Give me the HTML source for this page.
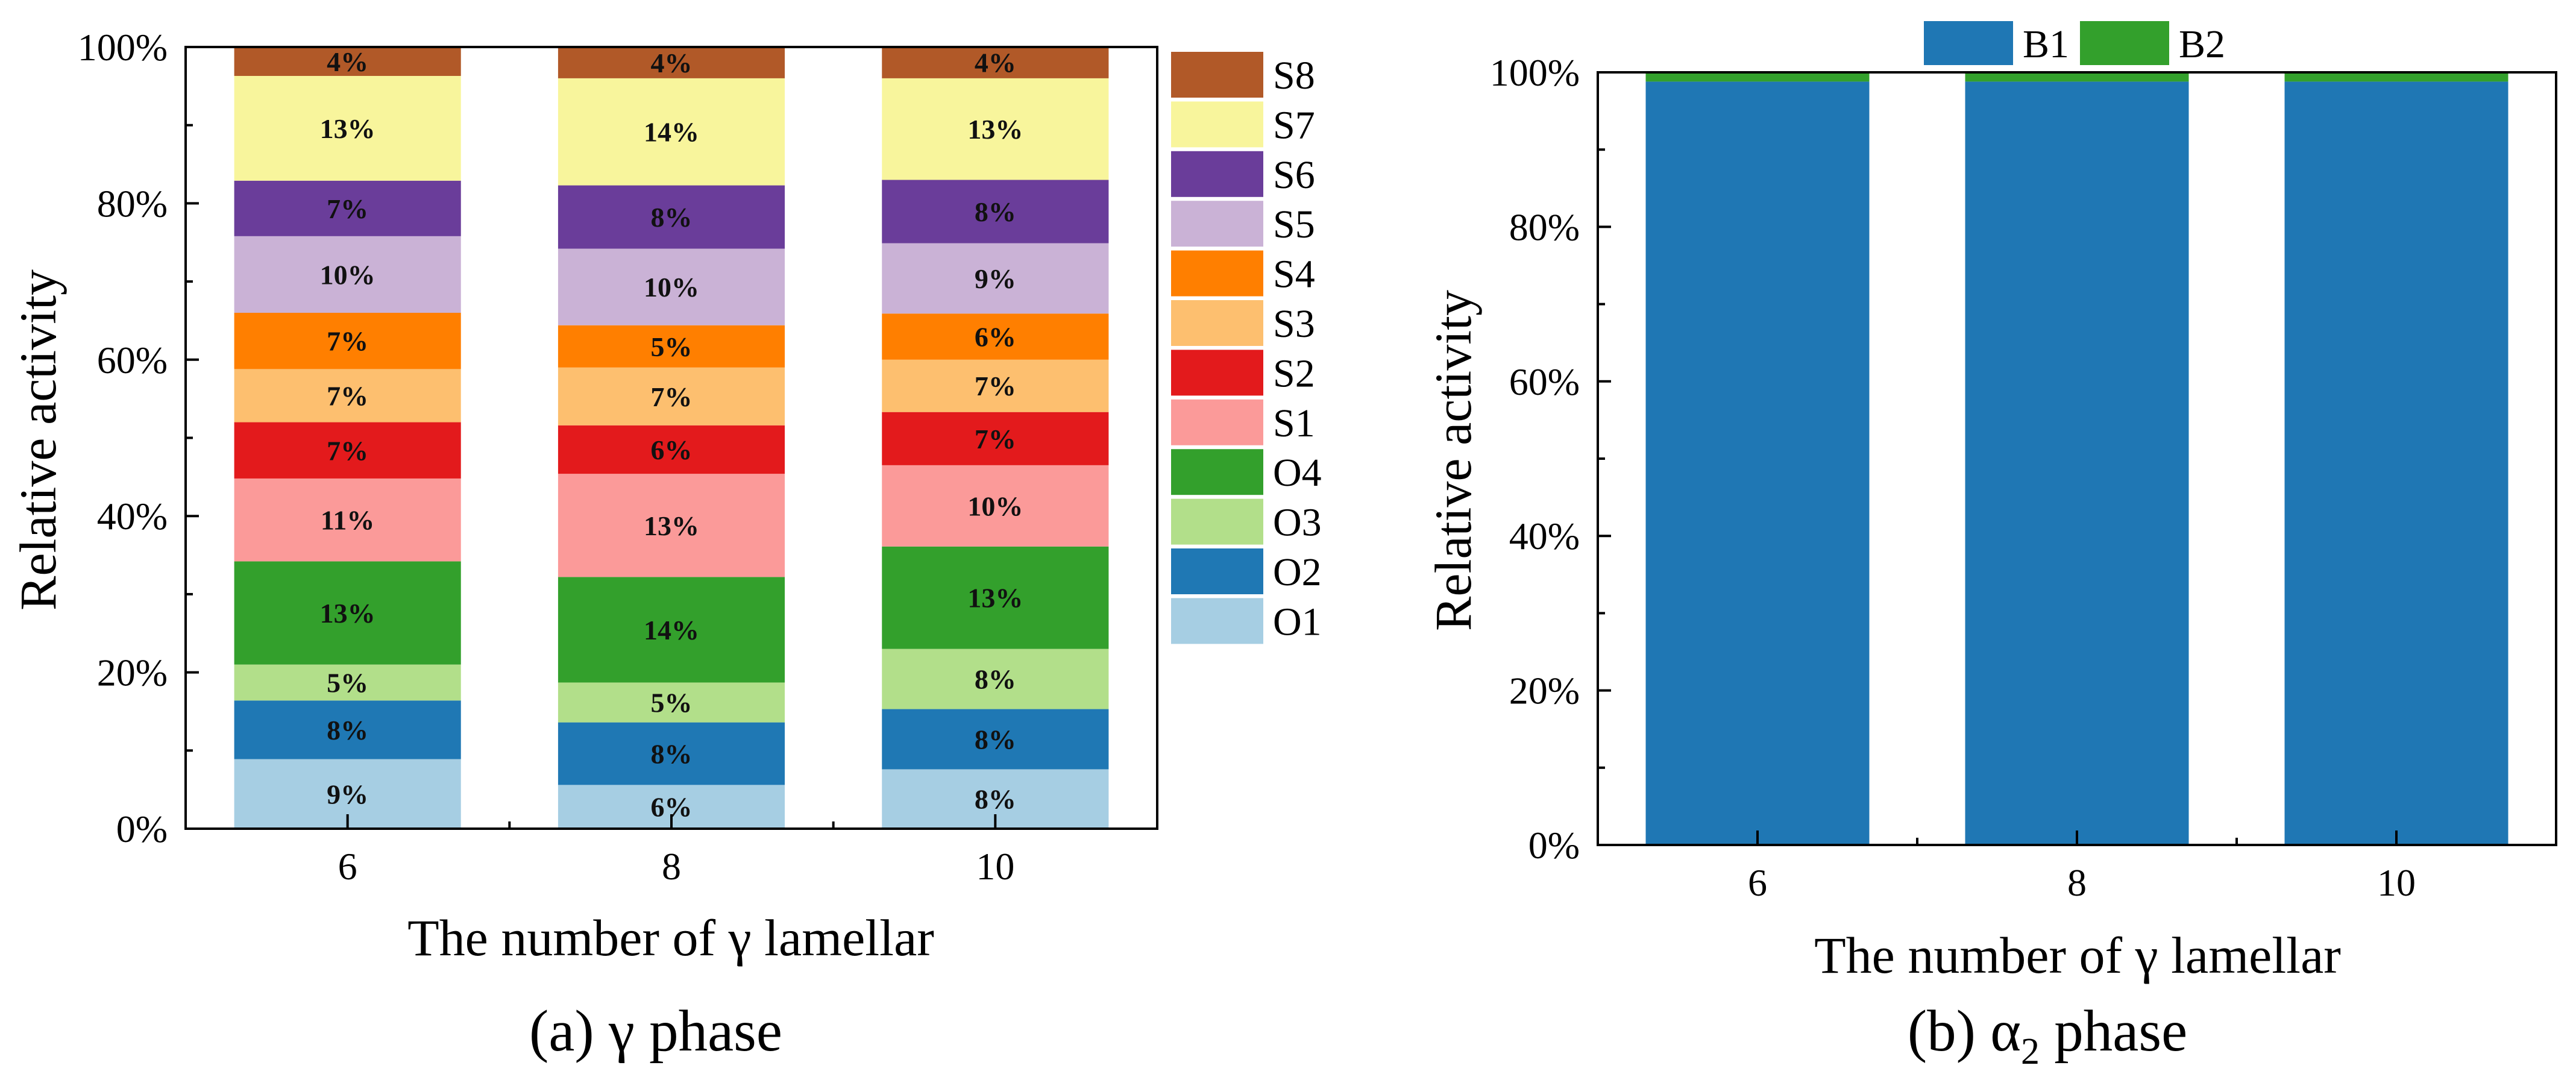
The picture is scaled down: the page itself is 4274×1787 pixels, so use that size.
<!DOCTYPE html>
<html><head><meta charset="utf-8">
<style>
html,body{margin:0;padding:0;background:#fff;}
svg{display:block;font-family:"Liberation Serif","DejaVu Serif",serif;}
</style></head>
<body>
<svg id="fig" width="4274" height="1787" viewBox="0 0 4274 1787" xmlns="http://www.w3.org/2000/svg">
<rect width="4274" height="1787" fill="#fff"/>
<g id="chartA"></g>
<g id="chartB"></g>
</svg>
<script>
const categories = ["6","8","10"];
const seriesNames = ["O1","O2","O3","O4","S1","S2","S3","S4","S5","S6","S7","S8"];
const seriesColors = ["#a6cee3","#1f78b4","#b2df8a","#33a02c","#fb9a99","#e31a1c","#fdbf6f","#ff7f00","#cab2d6","#6a3d9a","#f8f59c","#b15928"];
const valuesO1 = [8.9, 5.6, 7.6];
const valuesO2 = [7.5, 8.0, 7.7];
const valuesO3 = [4.6, 5.1, 7.7];
const valuesO4 = [13.2, 13.5, 13.1];
const valuesS1 = [10.6, 13.2, 10.4];
const valuesS2 = [7.2, 6.2, 6.8];
const valuesS3 = [6.8, 7.4, 6.7];
const valuesS4 = [7.2, 5.4, 5.9];
const valuesS5 = [9.8, 9.8, 9.0];
const valuesS6 = [7.1, 8.1, 8.1];
const valuesS7 = [13.4, 13.7, 13.0];
const valuesS8 = [3.7, 4.0, 4.1];
const valuesB1 = [98.8, 98.8, 98.8];
const valuesB2 = [1.2, 1.2, 1.2];
const yTickLabels = ["0%","20%","40%","60%","80%","100%"];
const yTickValues = [0,20,40,60,80,100];

const NS = "http://www.w3.org/2000/svg";
function mk(parent, tag, attrs, text){
  const e = document.createElementNS(NS, tag);
  for (const k in attrs) e.setAttribute(k, attrs[k]);
  if (text !== undefined) e.textContent = text;
  parent.appendChild(e);
  return e;
}

function drawChart(g, box, seriesVals, colors, names, showLabels, prefix){
  const {L,R,T,B} = box;
  const n = categories.length;
  const xs = i => L + (i + 0.5) / n * (R - L);
  const ys = v => B - v / 100 * (B - T);
  const bw = 0.7 * (R - L) / n;
  for (let i = 0; i < n; i++){
    let cum = 0;
    for (let s = 0; s < seriesVals.length; s++){
      const v = seriesVals[s][i];
      const y0 = ys(cum), y1 = ys(cum + v);
      const r = mk(g, "rect", {x: xs(i) - bw/2, y: y1, width: bw, height: y0 - y1, fill: colors[s]});
      
      
      if (showLabels){
        const t = mk(g, "text", {x: xs(i), y: (y0 + y1)/2 + 16, "text-anchor": "middle", "font-size": 46, "font-weight": "bold", fill: "#111"}, Math.round(v) + "%");
        
        
      }
      cum += v;
    }
  }
  for (let k = 0; k <= 10; k++){
    const y = ys(k * 10);
    const len = (k % 2 === 0) ? 22 : 12;
    const tk = mk(g, "line", {x1: L, x2: L + len, y1: y, y2: y, stroke: "#000", "stroke-width": 4});
    
    
  }
  yTickValues.forEach((v, j) => {
    const t = mk(g, "text", {x: L - 30, y: ys(v) + 22, "text-anchor": "end", "font-size": 64, fill: "#000"}, yTickLabels[j]);
    
    
  });
  for (let i = 0; i < n; i++){
    const tk = mk(g, "line", {x1: xs(i), x2: xs(i), y1: B, y2: B - 24, stroke: "#000", "stroke-width": 4});
    
    
    if (i < n - 1){
      const xm = (xs(i) + xs(i+1)) / 2;
      const mt = mk(g, "line", {x1: xm, x2: xm, y1: B, y2: B - 12, stroke: "#000", "stroke-width": 4});
      
      
    }
    const t = mk(g, "text", {x: xs(i), y: B + 84, "text-anchor": "middle", "font-size": 64, fill: "#000"}, categories[i]);
    
    
  }
  const fr = mk(g, "rect", {x: L, y: T, width: R - L, height: B - T, fill: "none", stroke: "#000", "stroke-width": 4});
  
  
}

const gA = document.getElementById("chartA");
drawChart(gA, {L:308, R:1920, T:78, B:1375},
  [valuesO1,valuesO2,valuesO3,valuesO4,valuesS1,valuesS2,valuesS3,valuesS4,valuesS5,valuesS6,valuesS7,valuesS8],
  seriesColors, seriesNames, true, "left");
for (let r = 0; r < 12; r++){
  const s = 11 - r;
  const y = 86 + r * 82.4;
  const b = mk(gA, "rect", {x: 1943, y: y, width: 153, height: 76, fill: seriesColors[s]});
  
  
  const t = mk(gA, "text", {x: 2112, y: y + 61, "font-size": 66, fill: "#000"}, seriesNames[s]);
  
  
}
let t;
t = mk(gA, "text", {x: 0, y: 0, transform: "translate(92,730) rotate(-90)", "text-anchor": "middle", "font-size": 86, fill: "#000"}, "Relative activity");
 
t = mk(gA, "text", {x: 1113, y: 1585, "text-anchor": "middle", "font-size": 86, fill: "#000"}, "The number of γ lamellar");
 
t = mk(gA, "text", {x: 1088, y: 1743, "text-anchor": "middle", "font-size": 97, fill: "#000"}, "(a) γ phase");
 

const gB = document.getElementById("chartB");
drawChart(gB, {L:2651, R:4241, T:120, B:1402}, [valuesB1, valuesB2], ["#1f77b4","#33a02c"], ["B1","B2"], false, "right");
const bNames = ["B1","B2"], bCols = ["#1f77b4","#33a02c"], bBoxX = [3192, 3451];
for (let s = 0; s < 2; s++){
  const b = mk(gB, "rect", {x: bBoxX[s], y: 35, width: 148, height: 73, fill: bCols[s]});
  
  
  const tt = mk(gB, "text", {x: bBoxX[s] + 164, y: 95, "font-size": 66, fill: "#000"}, bNames[s]);
  
  
}
t = mk(gB, "text", {x: 0, y: 0, transform: "translate(2440,764) rotate(-90)", "text-anchor": "middle", "font-size": 86, fill: "#000"}, "Relative activity");
 
t = mk(gB, "text", {x: 3447, y: 1614, "text-anchor": "middle", "font-size": 86, fill: "#000"}, "The number of γ lamellar");
 
t = mk(gB, "text", {x: 3397, y: 1743, "text-anchor": "middle", "font-size": 97, fill: "#000"});
 
t.appendChild(document.createTextNode("(b) α"));
mk(t, "tspan", {"font-size": 62, dy: 22}, "2");
mk(t, "tspan", {dy: -22}, " phase");
</script>
</body></html>
